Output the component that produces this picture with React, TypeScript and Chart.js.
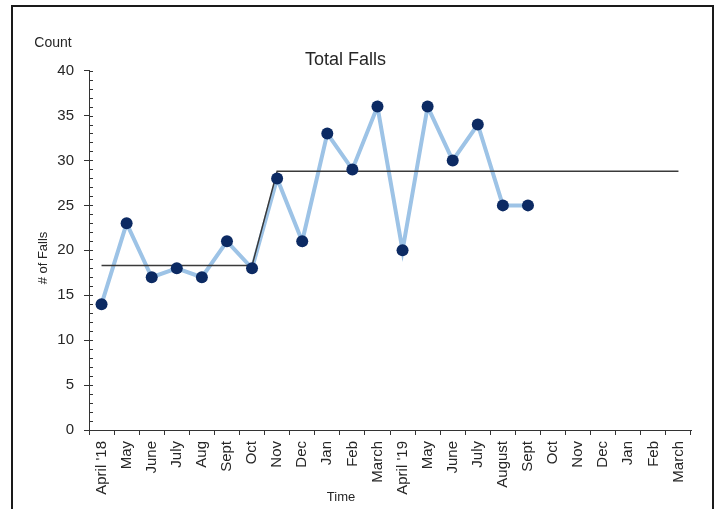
import React, { useEffect, useRef } from "react";
import { Chart, registerables } from "chart.js";

Chart.register(...registerables);

const categories = [
  "April '18", "May", "June", "July", "Aug", "Sept", "Oct", "Nov", "Dec", "Jan", "Feb", "March",
  "April '19", "May", "June", "July", "August", "Sept", "Oct", "Nov", "Dec", "Jan", "Feb", "March",
];

const falls: (number | null)[] = [
  14, 23, 17, 18, 17, 21, 18, 28, 21, 33, 29, 36,
  20, 36, 30, 34, 25, 25, null, null, null, null, null, null,
];

const centerLine: number[] = [
  18.3, 18.3, 18.3, 18.3, 18.3, 18.3, 18.3, 28.8, 28.8, 28.8, 28.8, 28.8,
  28.8, 28.8, 28.8, 28.8, 28.8, 28.8, 28.8, 28.8, 28.8, 28.8, 28.8, 28.8,
];

const yTickValues = [0, 5, 10, 15, 20, 25, 30, 35, 40];

const FONT = "'Liberation Sans', Arial, sans-serif";
const TEXT = "#262626";

const decorPlugin = {
  id: "decor",
  beforeDraw(chart: any) {
    const ctx = chart.ctx;
    ctx.save();
    ctx.fillStyle = "#ffffff";
    ctx.fillRect(0, 0, chart.width, chart.height);
    ctx.restore();
  },
  afterDraw(chart: any) {
    const ctx = chart.ctx;
    const y = chart.scales.y;
    const area = chart.chartArea;
    ctx.save();
    // minor / inner ticks
    ctx.strokeStyle = "#333333";
    ctx.lineWidth = 1;
    for (let v = 0; v <= 40; v++) {
      const py = Math.round(y.getPixelForValue(v)) + 0.5;
      ctx.beginPath();
      ctx.moveTo(area.left, py);
      ctx.lineTo(area.left + 4, py);
      ctx.stroke();
    }
    // texts
    ctx.fillStyle = TEXT;
    ctx.textAlign = "center";
    ctx.textBaseline = "middle";
    ctx.font = `14px ${FONT}`;
    ctx.fillText("Count", 53, 43);
    ctx.font = `13px ${FONT}`;
    ctx.fillText("Time", 341, 497);
    ctx.save();
    ctx.translate(43, 258);
    ctx.rotate(-Math.PI / 2);
    ctx.fillText("# of Falls", 0, 0);
    ctx.restore();
    // frame
    ctx.strokeStyle = "#1a1a1a";
    ctx.lineWidth = 2;
    ctx.strokeRect(12, 6, 701, 620);
    ctx.restore();
  },
};

export default function App() {
  const ref = useRef<HTMLCanvasElement | null>(null);

  useEffect(() => {
    if (!ref.current) return;
    const chart = new Chart(ref.current, {
      type: "line",
      data: {
        labels: categories,
        datasets: [
          {
            label: "Falls points",
            data: falls,
            showLine: false,
            pointRadius: 6,
            pointHoverRadius: 6,
            pointBackgroundColor: "#0c2a63",
            pointBorderColor: "#0c2a63",
            pointBorderWidth: 0,
            order: 0,
          },
          {
            label: "Center line",
            data: centerLine,
            borderColor: "#3a3a3a",
            borderWidth: 1.5,
            pointRadius: 0,
            fill: false,
            tension: 0,
            order: 1,
          },
          {
            label: "Falls",
            data: falls,
            borderColor: "#9dc3e6",
            borderWidth: 4,
            pointRadius: 0,
            fill: false,
            tension: 0,
            spanGaps: false,
            order: 2,
          },
        ],
      },
      options: {
        animation: false,
        responsive: false,
        maintainAspectRatio: false,
        layout: { padding: { left: 0, right: 25, top: 0, bottom: 0 } },
        plugins: {
          legend: { display: false },
          tooltip: { enabled: false },
          title: {
            display: true,
            text: "Total Falls",
            color: TEXT,
            font: { family: FONT, size: 18, weight: "normal" },
            padding: { top: 49, bottom: 0 },
          },
        },
        scales: {
          x: {
            type: "category",
            offset: true,
            grid: {
              offset: true,
              drawOnChartArea: false,
              drawTicks: true,
              tickLength: 5,
              color: "#333333",
            },
            border: { display: true, color: "#333333", width: 1 },
            ticks: {
              autoSkip: false,
              maxRotation: 90,
              minRotation: 90,
              padding: 6,
              color: TEXT,
              font: { family: FONT, size: 15 },
            },
            afterFit: (s: any) => {
              s.height = 79;
            },
          },
          y: {
            min: 0,
            max: 40,
            afterBuildTicks: (s: any) => {
              s.ticks = yTickValues.map((v) => ({ value: v }));
            },
            grid: {
              drawOnChartArea: false,
              drawTicks: true,
              tickLength: 5,
              color: "#333333",
            },
            border: { display: true, color: "#333333", width: 1 },
            ticks: {
              padding: 10,
              color: TEXT,
              font: { family: FONT, size: 15 },
            },
            afterFit: (s: any) => {
              s.width = 89;
            },
          },
        },
      },
      plugins: [decorPlugin],
    });
    return () => chart.destroy();
  }, []);

  return (
    <div style={{ position: "absolute", left: 0, top: 0, width: 716, height: 509, background: "#fff" }}>
      <canvas ref={ref} width={716} height={509} style={{ display: "block" }} />
    </div>
  );
}
